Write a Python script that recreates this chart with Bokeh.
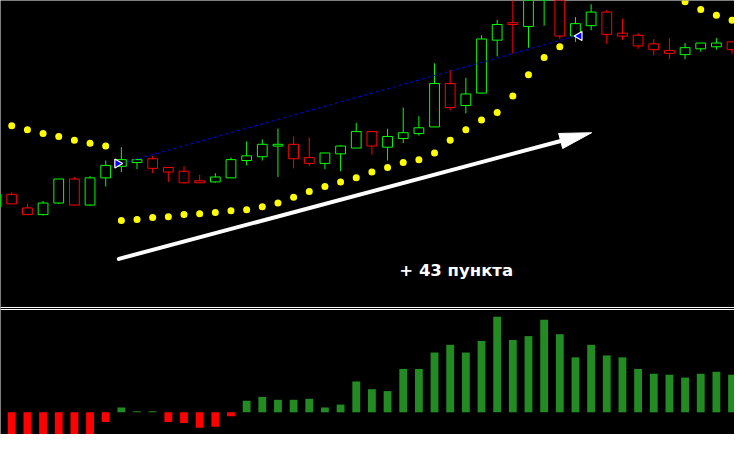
import math
from bokeh.plotting import figure
from bokeh.models import Range1d, Span
from bokeh.core.properties import value
from bokeh.embed import file_html
from bokeh.resources import INLINE

# ---- data ----
bars = list(range(-1, 47))
opens = [1.30287, 1.30330, 1.30283, 1.30260, 1.30300, 1.30383, 1.30293, 1.30387,
         1.30427, 1.30440, 1.30453, 1.30423, 1.30410, 1.30377, 1.30373, 1.30387,
         1.30447, 1.30460, 1.30497, 1.30503, 1.30457, 1.30437, 1.30470, 1.30490,
         1.30547, 1.30493, 1.30523, 1.30540, 1.30563, 1.30713, 1.30637, 1.30680,
         1.30863, 1.30923, 1.30910, 1.31033, 1.31100, 1.30877, 1.30913, 1.30960,
         1.30887, 1.30880, 1.30850, 1.30827, 1.30813, 1.30833, 1.30840, 1.30857]
highs = [1.30333, 1.30337, 1.30297, 1.30307, 1.30383, 1.30390, 1.30393, 1.30447,
         1.30493, 1.30453, 1.30463, 1.30423, 1.30427, 1.30397, 1.30403, 1.30457,
         1.30513, 1.30520, 1.30557, 1.30530, 1.30527, 1.30473, 1.30500, 1.30577,
         1.30550, 1.30557, 1.30630, 1.30600, 1.30783, 1.30760, 1.30733, 1.30880,
         1.30933, 1.31033, 1.31067, 1.31133, 1.31117, 1.30943, 1.30987, 1.30967,
         1.30937, 1.30887, 1.30867, 1.30870, 1.30853, 1.30853, 1.30870, 1.30857]
lows = [1.30283, 1.30297, 1.30260, 1.30257, 1.30297, 1.30293, 1.30290, 1.30357,
        1.30407, 1.30417, 1.30403, 1.30373, 1.30367, 1.30370, 1.30370, 1.30387,
        1.30430, 1.30447, 1.30390, 1.30420, 1.30427, 1.30417, 1.30410, 1.30490,
        1.30467, 1.30447, 1.30507, 1.30533, 1.30563, 1.30620, 1.30610, 1.30680,
        1.30807, 1.30817, 1.30837, 1.30913, 1.30867, 1.30857, 1.30897, 1.30850,
        1.30863, 1.30833, 1.30810, 1.30797, 1.30797, 1.30823, 1.30830, 1.30817]
closes = [1.30330, 1.30297, 1.30260, 1.30300, 1.30383, 1.30293, 1.30387, 1.30430,
          1.30450, 1.30450, 1.30420, 1.30407, 1.30370, 1.30370, 1.30390, 1.30450,
          1.30463, 1.30503, 1.30503, 1.30453, 1.30437, 1.30473, 1.30497, 1.30547,
          1.30497, 1.30530, 1.30543, 1.30560, 1.30713, 1.30630, 1.30677, 1.30867,
          1.30917, 1.30917, 1.31050, 1.31117, 1.30877, 1.30920, 1.30960, 1.30883,
          1.30877, 1.30843, 1.30830, 1.30817, 1.30837, 1.30853, 1.30853, 1.30830]

nan = float("nan")
sar = [nan, 1.30567, 1.30553, 1.30540, 1.30530, 1.30517, 1.30507, 1.30497,
       1.30240, 1.30243, 1.30250, 1.30253, 1.30260, 1.30263, 1.30267, 1.30273,
       1.30277, 1.30287, 1.30300, 1.30320, 1.30340, 1.30357, 1.30373, 1.30387,
       1.30407, 1.30423, 1.30440, 1.30450, 1.30473, 1.30517, 1.30553, 1.30587,
       1.30613, 1.30670, 1.30743, 1.30803, 1.30840, nan, nan, nan,
       nan, nan, nan, nan, 1.30996, 1.30969, 1.30949, 1.30932]

hist_bars = list(range(0, 47))
hist = [-3.5, -3.5, -3.5, -3.5, -3.5, -3.5, -1.0, 0.5, 0.1, 0.1, -1.0, -1.1,
        -1.6, -1.5, -0.4, 1.2, 1.6, 1.3, 1.3, 1.4, 0.5, 0.8, 3.2, 2.4,
        2.2, 4.5, 4.5, 6.2, 7.0, 6.2, 7.4, 9.9, 7.5, 7.9, 9.6, 8.1,
        5.7, 7.0, 5.9, 5.7, 4.5, 4.0, 3.9, 3.6, 4.0, 4.2, 3.9]

trade_bars = [7, 36]
trade_prices = [1.30437, 1.30877]

arrow_from = (6.84, 1.30107)
arrow_to = (37.03, 1.30543)
label_text = "+ 43 пункта"
label_pos = (24.75, 1.30067)

# ---- figure ----
W, H = 734, 434
x0, x1 = -0.71875, 46.15625
y0, y1 = 1.295, 1.310
p = figure(width=W, height=H, x_range=Range1d(x0, x1), y_range=Range1d(y0, y1),
           output_backend="svg", toolbar_location=None,
           x_axis_location=None, y_axis_location=None,
           background_fill_color="black", border_fill_color="black",
           min_border=0)
p.grid.visible = False
p.outline_line_color = None
p.extra_y_ranges = {"hist": Range1d(-2.3, 42.7)}

# histogram
hcol = ["#228b22" if v >= 0 else "#ff0000" for v in hist]
p.vbar(x=hist_bars, width=0.5, top=[max(v, 0) for v in hist],
       bottom=[min(v, 0) for v in hist], fill_color=hcol, line_color=None,
       y_range_name="hist")

# separators between the price window and the indicator window
for loc in (10.869, 10.661):
    p.add_layout(Span(location=loc, dimension="width", line_color="white",
                      line_width=1, y_range_name="hist"))

# candles
ccol = ["#00ff00" if c >= o else "#ff0000" for o, c in zip(opens, closes)]
p.segment(x0=bars, y0=highs, x1=bars, y1=lows, line_color=ccol, line_width=1)
p.vbar(x=bars, width=0.625, top=[max(o, c) for o, c in zip(opens, closes)],
       bottom=[min(o, c) for o, c in zip(opens, closes)],
       fill_color="black", line_color=ccol, line_width=1)

# parabolic SAR
p.scatter(x=bars, y=sar, size=7, marker="circle", fill_color="#ffff00",
          line_color=None)

# trade line and markers
p.line(x=trade_bars, y=trade_prices, line_color="#0000ff", line_width=1,
       line_dash="3 3")
p.scatter(x=[trade_bars[0] - 0.25], y=[trade_prices[0]], marker="triangle",
          angle=-math.pi / 2, size=9, fill_color="#0000ff", line_color="white",
          line_width=1.2)
p.scatter(x=[trade_bars[1] + 0.25], y=[trade_prices[1]], marker="triangle",
          angle=math.pi / 2, size=9, fill_color="#0000ff", line_color="white",
          line_width=1.2)

# white arrow
sx = W / (x1 - x0)
sy = H / (y1 - y0)
dxp = (arrow_to[0] - arrow_from[0]) * sx
dyp = (arrow_to[1] - arrow_from[1]) * sy
L = math.hypot(dxp, dyp)
ux, uy = dxp / L, dyp / L
nx, ny = -uy, ux
head_len, head_half = 32.0, 7.8
bx = arrow_to[0] - head_len * ux / sx
by = arrow_to[1] - head_len * uy / sy
p.line(x=[arrow_from[0], bx + 2 * ux / sx], y=[arrow_from[1], by + 2 * uy / sy],
       line_color="white", line_width=4, line_cap="round")
p.patch(x=[arrow_to[0], bx + head_half * nx / sx, bx - head_half * nx / sx],
        y=[arrow_to[1], by + head_half * ny / sy, by - head_half * ny / sy],
        fill_color="white", line_color="white", line_width=1)

# label
p.text(x=[label_pos[0]], y=[label_pos[1]], text=[label_text],
       text_font=value("DejaVu Sans"), text_font_style="bold",
       text_font_size="16.5px", text_color="white", text_baseline="alphabetic")

open("out.html", "w").write(file_html(p, INLINE))
